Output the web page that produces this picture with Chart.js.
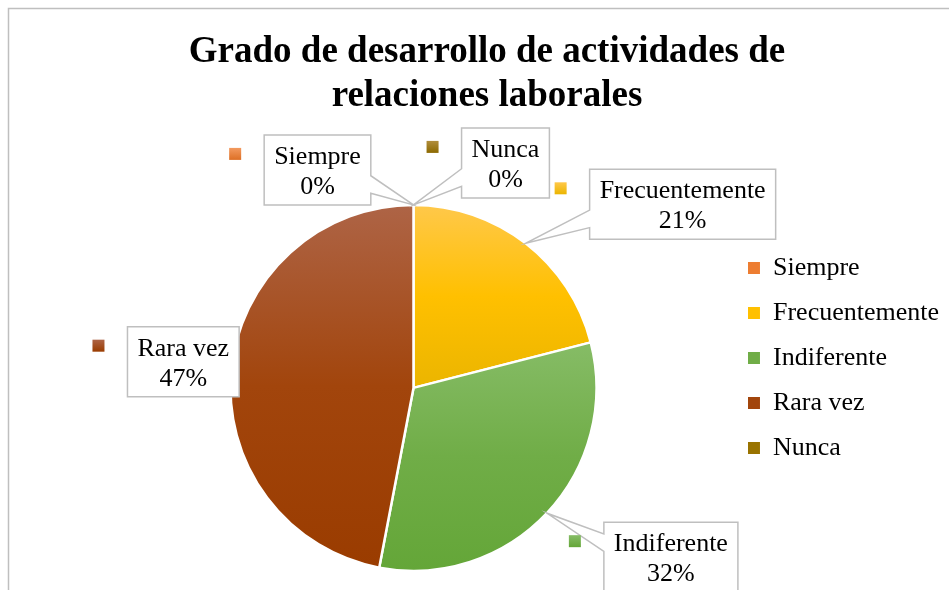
<!DOCTYPE html>
<html lang="es">
<head>
<meta charset="utf-8">
<title>Grado de desarrollo de actividades de relaciones laborales</title>
<script src="https://cdn.jsdelivr.net/npm/chart.js@4.4.1/dist/chart.umd.min.js"></script>
<style>
  html, body { margin: 0; padding: 0; background: #fff; }
</style>
</head>
<body>
<canvas id="gradoChart" width="949" height="590"></canvas>
<script>
// Datos del gráfico
const categorias = ['Siempre', 'Frecuentemente', 'Indiferente', 'Rara vez', 'Nunca'];
const porcentajes = [0, 21, 32, 47, 0];
const tituloLineas = ['Grado de desarrollo de actividades de', 'relaciones laborales'];

// Colores: tono claro (arriba), base y oscuro (abajo) de cada sector
const coloresBase = ['#ED7D31', '#FFC000', '#70AD47', '#A2450C', '#997300'];
const coloresClaros = ['#F39A5F', '#FFC84A', '#86BC66', '#AE6446', '#B08D3C'];
const coloresOscuros = ['#DD6F25', '#EBB500', '#64A638', '#9A3C00', '#8C6900'];

// Desplazamiento del centro de cada etiqueta respecto al borde de su sector (px)
const desplazamientoEtiquetas = [[-96, -35], [157, -39], [124, 44], [-48, -9], [92, -42]];

const RADIO = 183;
const FUENTE = '"Liberation Serif", "Times New Roman", serif';
// El marco del gráfico original continúa más allá del borde derecho de la imagen
const MARCO = { x: 8, y: 8, ancho: 958 };

// Degradado vertical para cada sector, según su propio alto
function gradienteSector(context) {
  const chart = context.chart;
  const area = chart.chartArea;
  const i = context.dataIndex;
  if (!area) return coloresBase[i];
  const cx = (area.left + area.right) / 2;
  const cy = (area.top + area.bottom) / 2;
  const total = porcentajes.reduce((a, b) => a + b, 0);
  const previo = porcentajes.slice(0, i).reduce((a, b) => a + b, 0);
  const inicio = -Math.PI / 2 + 2 * Math.PI * previo / total;
  const fin = inicio + 2 * Math.PI * porcentajes[i] / total;
  let yMin = cy, yMax = cy;
  for (let k = 0; k <= 60; k++) {
    const a = inicio + (fin - inicio) * k / 60;
    const y = cy + RADIO * Math.sin(a);
    yMin = Math.min(yMin, y);
    yMax = Math.max(yMax, y);
  }
  if (yMax - yMin < 1) return coloresBase[i];
  const g = chart.ctx.createLinearGradient(0, yMin, 0, yMax);
  g.addColorStop(0, coloresClaros[i]);
  g.addColorStop(0.5, coloresBase[i]);
  g.addColorStop(1, coloresOscuros[i]);
  return g;
}

// Fondo blanco y marco gris del gráfico
const marcoGrafico = {
  id: 'marcoGrafico',
  beforeDraw(chart) {
    const ctx = chart.ctx;
    ctx.save();
    ctx.fillStyle = '#fff';
    ctx.fillRect(0, 0, chart.width, chart.height);
    ctx.strokeStyle = '#BFBFBF';
    ctx.lineWidth = 1.5;
    ctx.strokeRect(MARCO.x + 0.5, MARCO.y + 0.5, MARCO.ancho, chart.height + 20);
    ctx.restore();
  }
};

// El título se centra dentro del marco, no sólo en el espacio libre
const tituloEnMarco = {
  id: 'tituloEnMarco',
  afterLayout(chart) {
    const t = chart.titleBlock;
    if (!t) return;
    t.left = MARCO.x;
    t.right = MARCO.x + MARCO.ancho;
    t.width = MARCO.ancho;
  }
};

// Caja de llamada (rectángulo con cuña que apunta al sector)
function trazarCallout(ctx, bx, by, w, h, px, py) {
  const cx = bx + w / 2, cy = by + h / 2;
  const dentro = px >= bx && px <= bx + w && py >= by && py <= by + h;
  const pts = [];
  const rx = (px - cx) / w, ry = (py - cy) / h;
  const lado = dentro ? null : (Math.abs(rx) > Math.abs(ry) ? (rx < 0 ? 'izq' : 'der') : (ry < 0 ? 'arr' : 'aba'));
  const ya = by + h * (py < cy ? 2 / 12 : 7 / 12), yb = by + h * (py < cy ? 5 / 12 : 10 / 12);
  const xa = bx + w * (px < cx ? 2 / 12 : 7 / 12), xb = bx + w * (px < cx ? 5 / 12 : 10 / 12);

  pts.push([bx, by]);
  if (lado === 'arr') pts.push([xa, by], [px, py], [xb, by]);
  pts.push([bx + w, by]);
  if (lado === 'der') pts.push([bx + w, ya], [px, py], [bx + w, yb]);
  pts.push([bx + w, by + h]);
  if (lado === 'aba') pts.push([xb, by + h], [px, py], [xa, by + h]);
  pts.push([bx, by + h]);
  if (lado === 'izq') pts.push([bx, yb], [px, py], [bx, ya]);

  ctx.beginPath();
  pts.forEach(([x, y], k) => (k === 0 ? ctx.moveTo(x, y) : ctx.lineTo(x, y)));
  ctx.closePath();
  ctx.fillStyle = '#fff';
  ctx.fill();
  ctx.strokeStyle = '#BFBFBF';
  ctx.lineWidth = 1.5;
  ctx.stroke();
}

// Etiquetas de datos con nombre de categoría y porcentaje
const etiquetasCallout = {
  id: 'etiquetasCallout',
  afterDatasetsDraw(chart) {
    const ctx = chart.ctx;
    const meta = chart.getDatasetMeta(0);
    ctx.save();
    ctx.font = '26px ' + FUENTE;
    meta.data.forEach((arc, i) => {
      const { x, y, startAngle, endAngle, outerRadius } =
        arc.getProps(['x', 'y', 'startAngle', 'endAngle', 'outerRadius'], true);
      const medio = (startAngle + endAngle) / 2;
      const px = x + outerRadius * Math.cos(medio);
      const py = y + outerRadius * Math.sin(medio);

      const lineas = [categorias[i], porcentajes[i] + '%'];
      const ancho = Math.max(...lineas.map((t) => ctx.measureText(t).width)) + 20;
      const alto = 70;
      const [dx, dy] = desplazamientoEtiquetas[i];
      const bx = px + dx - ancho / 2;
      const by = py + dy - alto / 2;

      trazarCallout(ctx, bx, by, ancho, alto, px, py);

      // Texto
      ctx.fillStyle = '#000';
      ctx.textAlign = 'center';
      ctx.textBaseline = 'middle';
      ctx.fillText(lineas[0], bx + ancho / 2, by + 22);
      ctx.fillText(lineas[1], bx + ancho / 2, by + 52);

      // Clave de leyenda junto a la etiqueta
      const kx = bx - 35, ky = by + 13;
      const g = ctx.createLinearGradient(0, ky, 0, ky + 12);
      g.addColorStop(0, coloresClaros[i]);
      g.addColorStop(1, coloresOscuros[i]);
      ctx.fillStyle = g;
      ctx.fillRect(kx, ky, 12, 12);
    });
    ctx.restore();
  }
};

const ctx = document.getElementById('gradoChart').getContext('2d');
new Chart(ctx, {
  type: 'pie',
  data: {
    labels: categorias,
    datasets: [
      {
        data: porcentajes,
        backgroundColor: gradienteSector,
        borderColor: '#fff',
        borderWidth: 2.5,
        radius: RADIO,
      },
    ],
  },
  options: {
    responsive: false,
    animation: false,
    layout: { padding: { left: 98, right: 0, top: 0, bottom: 0 } },
    plugins: {
      title: {
        display: true,
        text: tituloLineas,
        color: '#000',
        font: { family: FUENTE, size: 37, weight: 'bold', lineHeight: 1.2 },
        padding: { top: 30, bottom: 67 },
      },
      legend: {
        display: true,
        position: 'right',
        align: 'start',
        title: { display: true, text: '', font: { size: 10 }, padding: { top: 224, bottom: 0 } },
        labels: {
          color: '#000',
          font: { family: FUENTE, size: 26 },
          boxWidth: 12,
          boxHeight: 12,
          padding: 19,
          generateLabels: () =>
            categorias.map((cat, i) => ({
              text: cat,
              fillStyle: coloresBase[i],
              strokeStyle: coloresBase[i],
              fontColor: '#000',
              lineWidth: 0,
              hidden: false,
              index: i,
            })),
        },
      },
      tooltip: { enabled: false },
    },
  },
  plugins: [marcoGrafico, tituloEnMarco, etiquetasCallout],
});
</script>
</body>
</html>
